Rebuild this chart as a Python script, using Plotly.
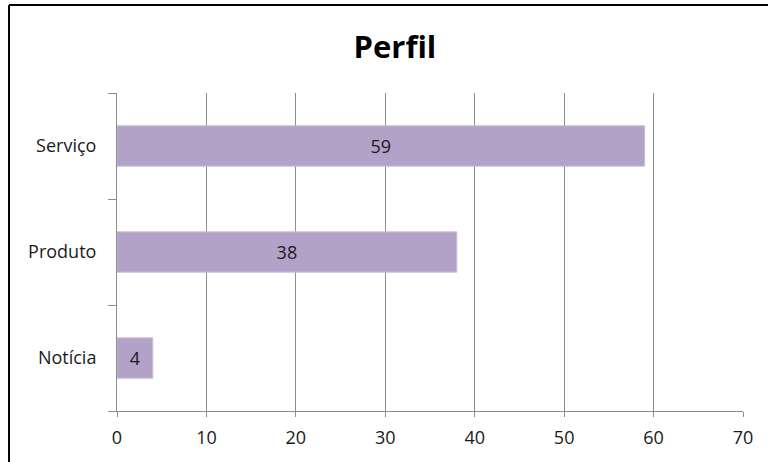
import plotly.graph_objects as go

categories = ["Serviço", "Produto", "Notícia"]
values = [59, 38, 4]
x_ticks = [0, 10, 20, 30, 40, 50, 60, 70]

BAR = "#B3A2C7"
GRID = "#8C8C8C"
FONT = "Open Sans"

fig = go.Figure(
    go.Bar(
        y=categories,
        x=values,
        orientation="h",
        marker=dict(color=BAR, line=dict(color="#C9BCDA", width=1)),
        width=0.38,
        text=[str(v) for v in values],
        textposition="inside",
        insidetextanchor="middle",
        textfont=dict(family=FONT, size=18, color="#1a1a1a"),
        hoverinfo="skip",
    )
)

fig.update_layout(
    width=768,
    height=462,
    margin=dict(l=117, r=25, t=93, b=51),
    paper_bgcolor="white",
    plot_bgcolor="white",
    showlegend=False,
    title=dict(
        text="<b>Perfil</b>",
        font=dict(family=FONT, size=31, color="black"),
        x=0.444,
        xref="paper",
        xanchor="center",
        y=0.898,
        yref="container",
        yanchor="middle",
    ),
    xaxis=dict(
        range=[0, 70],
        tickvals=x_ticks,
        showgrid=True,
        gridcolor=GRID,
        gridwidth=1,
        zeroline=False,
        showline=True,
        linecolor=GRID,
        linewidth=1,
        ticks="outside",
        ticklen=5,
        tickcolor=GRID,
        tickfont=dict(family=FONT, size=18, color="#1a1a1a"),
        ticklabelstandoff=5,
        automargin=False,
        fixedrange=True,
    ),
    yaxis=dict(
        categoryorder="array",
        categoryarray=categories[::-1],
        showline=True,
        linecolor=GRID,
        linewidth=1,
        ticks="outside",
        tickson="boundaries",
        ticklen=8,
        tickcolor=GRID,
        showgrid=False,
        tickfont=dict(family=FONT, size=18, color="#1a1a1a"),
        ticklabelstandoff=16,
        automargin=False,
        fixedrange=True,
    ),
    shapes=[
        dict(type="line", xref="paper", yref="paper",
             x0=-0.1725, x1=-0.1725, y0=1.277, y1=-0.2,
             line=dict(color="black", width=2)),
        dict(type="line", xref="paper", yref="paper",
             x0=-0.1725, x1=1.05, y0=1.277, y1=1.277,
             line=dict(color="black", width=2)),
    ],
)

fig.write_html(
    "out.html",
    config={"displayModeBar": False},
    post_script="document.body.style.margin='0';document.body.style.overflow='hidden';",
)
